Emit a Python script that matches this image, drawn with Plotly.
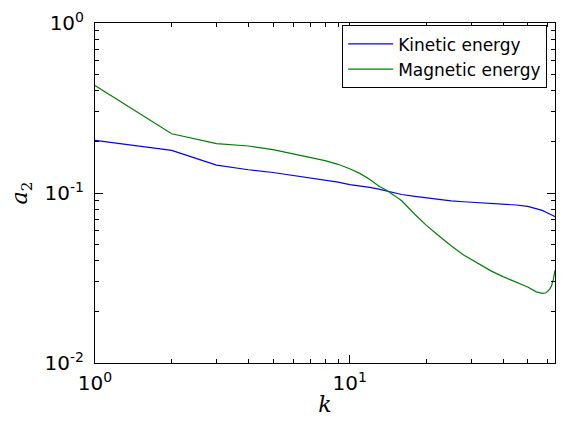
import plotly.graph_objects as go

k = [1, 2, 3, 4, 5, 6, 7, 8, 9, 10, 11, 12, 13, 14, 15, 16, 18, 20, 22, 25, 28,
     32, 36, 40, 45, 50, 54, 57, 59, 61, 62, 63, 64]
kinetic = [0.204, 0.178, 0.146, 0.137, 0.132, 0.127, 0.123, 0.120, 0.116, 0.112,
           0.110, 0.108, 0.1055, 0.103, 0.1005, 0.098, 0.0955, 0.0935, 0.092, 0.0898,
           0.0888, 0.0878, 0.0868, 0.086, 0.085, 0.0835, 0.081, 0.079, 0.077, 0.0755,
           0.0745, 0.0735, 0.0724]
magnetic = [0.429, 0.223, 0.195, 0.189, 0.180, 0.170, 0.163, 0.155, 0.1475, 0.139,
            0.130, 0.120, 0.110, 0.1035, 0.0965, 0.090, 0.075, 0.0645, 0.0572, 0.0489,
            0.0432, 0.0385, 0.0347, 0.0322, 0.030, 0.028, 0.0262, 0.0257, 0.0259,
            0.0272, 0.0285, 0.031, 0.0352]

xtickvals = [1, 10]
xticktext = ["10<sup>0</sup>", "10<sup>1</sup>"]
ytickvals = [0.01, 0.1, 1]
yticktext = ["10<sup>-2</sup>", "10<sup>-1</sup>", "10<sup>0</sup>"]
xminor = [2, 3, 4, 5, 6, 7, 8, 9, 20, 30, 40, 50, 60]
yminor = [m * d for d in (0.01, 0.1) for m in range(2, 10)]

fig = go.Figure()
fig.add_trace(go.Scatter(x=k, y=kinetic, mode="lines", name="Kinetic energy",
                         line=dict(color="#0000ff", width=1.2)))
fig.add_trace(go.Scatter(x=k, y=magnetic, mode="lines", name="Magnetic energy",
                         line=dict(color="#008000", width=1.2)))

axis_common = dict(
    showgrid=False, zeroline=False, showline=True, linecolor="black", linewidth=1,
    mirror="ticks", ticks="inside", ticklen=8, tickcolor="black", tickwidth=1,
    tickfont=dict(family="DejaVu Sans", size=20, color="black"),
)
fig.update_xaxes(type="log", range=[0, 1.806], tickmode="array", tickvals=xtickvals,
                 ticktext=xticktext, ticklabelstandoff=2,
                 minor=dict(ticks="inside", ticklen=4, tickcolor="black", tickmode="array",
                            tickvals=xminor, showgrid=False),
                 title=dict(text="<i>k</i>", font=dict(family="DejaVu Serif", size=22, color="black"),
                            standoff=2),
                 **axis_common)
fig.update_yaxes(type="log", range=[-2, 0], tickmode="array", tickvals=ytickvals,
                 ticktext=yticktext, ticklabelstandoff=6,
                 minor=dict(ticks="inside", ticklen=4, tickcolor="black", tickmode="array",
                            tickvals=yminor, showgrid=False),
                 title=dict(text="<i>a</i><sub>2</sub>", font=dict(family="DejaVu Serif", size=22, color="black"),
                            standoff=10),
                 **axis_common)

fig.update_layout(
    width=565, height=423,
    margin=dict(l=95, r=9, t=18, b=60),
    plot_bgcolor="white", paper_bgcolor="white",
    legend=dict(x=0.983, y=0.993, xanchor="right", yanchor="top",
                bordercolor="black", borderwidth=1, bgcolor="white",
                font=dict(family="DejaVu Sans", size=17, color="black"),
                itemwidth=45, tracegroupgap=0),
    showlegend=True,
)
fig.write_html("out.html")
